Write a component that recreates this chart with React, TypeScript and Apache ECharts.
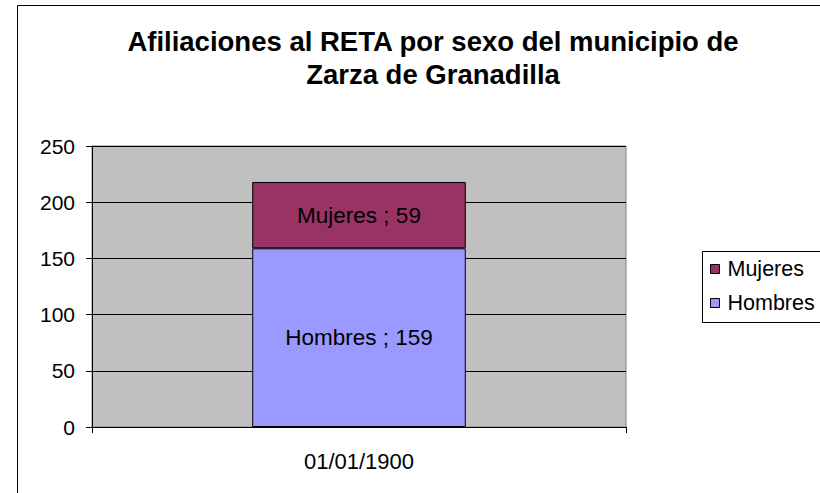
import React, { useEffect, useRef } from "react";
import * as echarts from "echarts";

const titleLines = ["Afiliaciones al RETA por sexo del municipio de", "Zarza de Granadilla"];
const categories = ["01/01/1900"];
const hombres = [159];
const mujeres = [59];
const seriesNames = ["Hombres", "Mujeres"];

export default function App() {
  const ref = useRef<HTMLDivElement>(null);
  useEffect(() => {
    if (!ref.current) return;
    const chart = echarts.init(ref.current, null, { renderer: "svg" });
    const font = "'Liberation Sans', Arial, sans-serif";
    chart.setOption({
      animation: false,
      backgroundColor: "#ffffff",
      textStyle: { fontFamily: font },
      graphic: [
        {
          type: "rect",
          shape: { x: 17.5, y: 5.5, width: 900, height: 600 },
          style: { fill: "none", stroke: "#000", lineWidth: 1 },
          silent: true,
        },
        {
          type: "rect",
          shape: { x: 702.5, y: 251.5, width: 200, height: 71 },
          style: { fill: "#fff", stroke: "#000", lineWidth: 1 },
          silent: true,
          z: -1,
        },
        {
          type: "text",
          x: 433,
          y: 25,
          style: {
            text: titleLines.join("\n"),
            fontFamily: font,
            fontSize: 27.5,
            fontWeight: "bold",
            lineHeight: 33,
            fill: "#000",
            textAlign: "center",
            textVerticalAlign: "top",
          },
        },
      ],
      legend: {
        orient: "vertical",
        left: 702,
        top: 251,
        data: [seriesNames[1], seriesNames[0]],
        icon: "rect",
        itemWidth: 9,
        itemHeight: 9,
        itemGap: 12,
        padding: [7, 10, 9, 8],
        borderWidth: 0,
        textStyle: { fontSize: 21.5, color: "#000", fontFamily: font, lineHeight: 22, padding: [0, 0, 0, 3] },
        itemStyle: { borderColor: "#000", borderWidth: 1 },
        z: 10,
      },
      grid: {
        left: 92,
        top: 146,
        right: 194,
        bottom: 66,
        show: true,
        backgroundColor: "#C0C0C0",
        borderColor: "#808080",
        borderWidth: 1,
      },
      xAxis: {
        type: "category",
        data: categories,
        boundaryGap: true,
        axisLine: { lineStyle: { color: "#000", width: 1 } },
        axisTick: { show: true, length: 6, lineStyle: { color: "#000" }, inside: false },
        axisLabel: { fontSize: 22, color: "#000", margin: 23, fontFamily: font },
      },
      yAxis: {
        type: "value",
        min: 0,
        max: 250,
        interval: 50,
        axisLine: { show: true, lineStyle: { color: "#000", width: 1 } },
        axisTick: { show: true, length: 6, lineStyle: { color: "#000" } },
        axisLabel: { fontSize: 21, color: "#000", margin: 17, fontFamily: font },
        splitLine: { show: true, lineStyle: { color: "#000", width: 1 } },
      },
      series: [
        {
          name: seriesNames[0],
          type: "bar",
          stack: "total",
          data: hombres,
          barWidth: "40%",
          itemStyle: { color: "#9999FF", borderColor: "#000", borderWidth: 1 },
          label: { show: true, position: "inside", formatter: "{a} ; {c}", fontSize: 22.5, color: "#000", fontFamily: font },
        },
        {
          name: seriesNames[1],
          type: "bar",
          stack: "total",
          data: mujeres,
          barWidth: "40%",
          itemStyle: { color: "#993366", borderColor: "#000", borderWidth: 1 },
          label: { show: true, position: "inside", formatter: "{a} ; {c}", fontSize: 22.5, color: "#000", fontFamily: font },
        },
      ],
    });
    return () => chart.dispose();
  }, []);
  return (
    <div
      ref={ref}
      style={{ position: "fixed", left: 0, top: 0, width: 820, height: 493 }}
    />
  );
}
